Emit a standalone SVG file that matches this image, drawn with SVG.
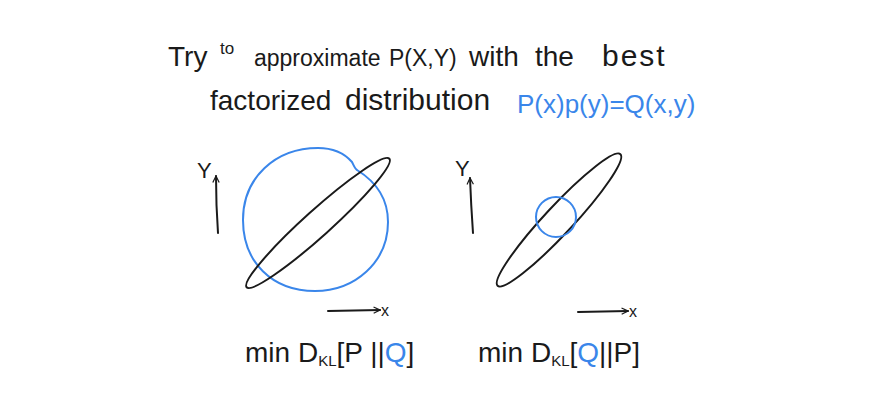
<svg xmlns="http://www.w3.org/2000/svg" width="886" height="402" viewBox="0 0 886 402">
<style>
.t{font-family:"Liberation Sans",Arial,sans-serif;fill:#1a1a1a}
.b{fill:#3a86ea}
.ink{fill:none;stroke:#1a1a1a;stroke-width:2;stroke-linecap:round;stroke-linejoin:round}
.blue{fill:none;stroke:#3a86ea;stroke-width:2;stroke-linecap:round;stroke-linejoin:round}
</style>
<defs>
<marker id="ah" viewBox="0 0 10 10" refX="9" refY="5" markerWidth="8" markerHeight="8" orient="auto" markerUnits="userSpaceOnUse">
<path d="M1,1 L9,5 L1,9" fill="none" stroke="#1a1a1a" stroke-width="1.5"/>
</marker>
</defs>
<rect width="886" height="402" fill="#fff"/>
<g id="title">
<text class="t" x="168" y="66" font-size="28">Try</text>
<text class="t" x="220" y="54" font-size="17">to</text>
<text class="t" x="254" y="66" font-size="23">approximate</text>
<text class="t" x="389" y="66" font-size="23">P(X,Y)</text>
<text class="t" x="469" y="66" font-size="28">with</text>
<text class="t" x="535" y="66" font-size="28">the</text>
<text class="t" x="602" y="66" font-size="30" letter-spacing="2">best</text>
<text class="t" x="210" y="110" font-size="28">factorized</text>
<text class="t" x="345" y="110" font-size="30">distribution</text>
<text class="t b" x="517" y="113" font-size="26">P(x)p(y)=Q(x,y)</text>
</g>
<g id="left-plot">
<text class="t" x="197" y="178" font-size="22">Y</text>
<path class="ink" d="M218,233 Q216,205 216,176" marker-end="url(#ah)"/>
<path class="blue" d="M318,148 C335,148 345,154 352,162 C354,166 355,169 357,170 C378,183 388,200 388,222 C388,262 355,291 315,291 C272,291 243,262 243,220 C243,178 275,148 318,148 Z"/>
<ellipse class="ink" cx="318" cy="223" rx="96" ry="13" transform="rotate(-42 318 223)"/>
<path class="ink" d="M328,311 L380,310" marker-end="url(#ah)"/>
<text class="t" x="381" y="316" font-size="16">x</text>
</g>
<g id="right-plot">
<text class="t" x="455" y="176" font-size="22">Y</text>
<path class="ink" d="M473,233 Q471,205 470,178" marker-end="url(#ah)"/>
<ellipse class="ink" cx="559" cy="220" rx="90" ry="14" transform="rotate(-47 559 220)"/>
<circle class="blue" cx="556" cy="217" r="20"/>
<path class="ink" d="M578,312 L628,311" marker-end="url(#ah)"/>
<text class="t" x="629" y="317" font-size="16">x</text>
</g>
<g id="left-label">
<text class="t" x="245" y="362" font-size="28">min D<tspan font-size="15" dy="4">KL</tspan><tspan dy="-4">[P ||</tspan><tspan class="b">Q</tspan>]</text>
</g>
<g id="right-label">
<text class="t" x="478" y="362" font-size="28">min D<tspan font-size="15" dy="4">KL</tspan><tspan dy="-4">[</tspan><tspan class="b">Q</tspan>||P]</text>
</g>
</svg>
